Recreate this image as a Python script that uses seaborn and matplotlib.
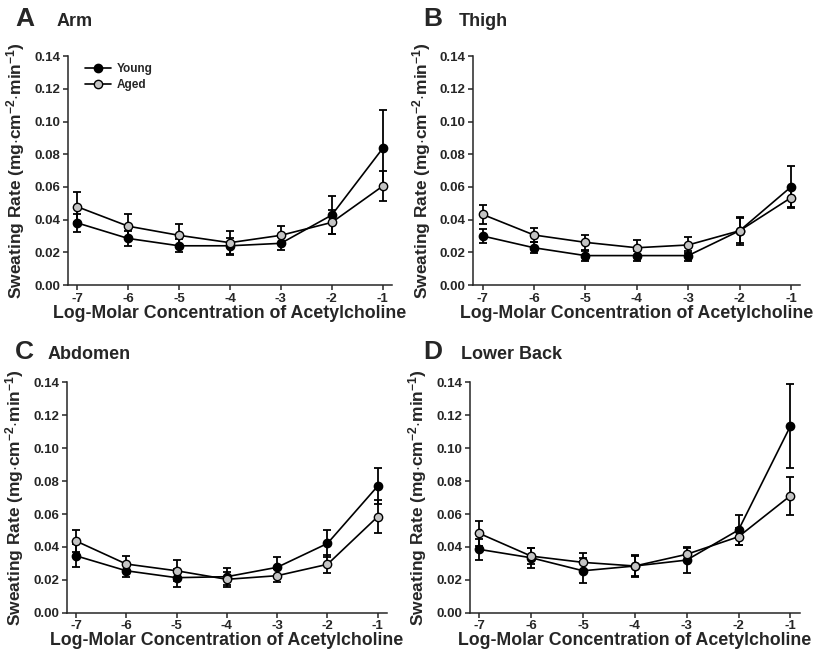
import matplotlib
matplotlib.use("Agg")
import matplotlib.pyplot as plt
from matplotlib.lines import Line2D
import seaborn as sns
import pandas as pd

# concentrations of acetylcholine (log molar)
conc = [-7, -6, -5, -4, -3, -2, -1]

# sweating rate, mean and SE
arm_young = [0.038, 0.0285, 0.024, 0.024, 0.0255, 0.0428, 0.0836]
arm_young_err = [0.0055, 0.0046, 0.004, 0.005, 0.004, 0.0116, 0.0234]
arm_aged = [0.0479, 0.036, 0.0304, 0.0259, 0.0304, 0.0383, 0.0605]
arm_aged_err = [0.0092, 0.0073, 0.007, 0.0073, 0.0055, 0.0073, 0.0092]

thigh_young = [0.030, 0.0228, 0.018, 0.018, 0.018, 0.0332, 0.060]
thigh_young_err = [0.004, 0.0035, 0.003, 0.003, 0.003, 0.0085, 0.0125]
thigh_aged = [0.0432, 0.0306, 0.0261, 0.0228, 0.0245, 0.0332, 0.0534]
thigh_aged_err = [0.006, 0.0043, 0.0045, 0.005, 0.0047, 0.0075, 0.0063]

abd_young = [0.0346, 0.0255, 0.0213, 0.0219, 0.0276, 0.0421, 0.077]
abd_young_err = [0.007, 0.004, 0.0055, 0.005, 0.006, 0.008, 0.0107]
abd_aged = [0.0436, 0.0296, 0.0255, 0.0203, 0.0225, 0.0294, 0.0584]
abd_aged_err = [0.0067, 0.005, 0.0065, 0.0045, 0.004, 0.0055, 0.010]

back_young = [0.0385, 0.0334, 0.0255, 0.0284, 0.032, 0.0503, 0.1134]
back_young_err = [0.0065, 0.006, 0.0077, 0.006, 0.0077, 0.009, 0.0256]
back_aged = [0.0482, 0.0344, 0.0306, 0.0284, 0.0355, 0.0462, 0.0711]
back_aged_err = [0.0075, 0.005, 0.0055, 0.0065, 0.004, 0.005, 0.0114]

AGED_GREY = "#c4c4c4"

sns.set_style("ticks")
plt.rcParams["font.family"] = ["Liberation Sans", "DejaVu Sans"]
plt.rcParams["font.weight"] = "bold"
plt.rcParams["axes.unicode_minus"] = False
plt.rcParams["mathtext.fontset"] = "custom"
plt.rcParams["mathtext.rm"] = "Liberation Sans:bold"
plt.rcParams["mathtext.default"] = "rm"

fig = plt.figure(figsize=(8.16, 6.56), dpi=100)

# letter, title, axes rect, letter x / title x / baseline (px), data
panels = [
    ("A", "Arm", [0.0833, 0.5655, 0.397, 0.349], 15, 57, 26, arm_young, arm_young_err, arm_aged, arm_aged_err),
    ("B", "Thigh", [0.580, 0.5655, 0.4007, 0.349], 423, 459, 26, thigh_young, thigh_young_err, thigh_aged, thigh_aged_err),
    ("C", "Abdomen", [0.082, 0.066, 0.392, 0.351], 15, 48, 359, abd_young, abd_young_err, abd_aged, abd_aged_err),
    ("D", "Lower Back", [0.576, 0.066, 0.404, 0.351], 423, 461, 359, back_young, back_young_err, back_aged, back_aged_err),
]

ylab = r"Sweating Rate (mg$\cdot$cm$^{-2}$$\cdot$min$^{-1}$)"

for letter, name, rect, lx, tx, ty, yg, yg_err, ag, ag_err in panels:
    ax = fig.add_axes(rect)
    # error bars under the markers
    for y, err in [(yg, yg_err), (ag, ag_err)]:
        ax.errorbar(conc, y, yerr=err, fmt="none", ecolor="black", elinewidth=1.3,
                    capsize=2.8, capthick=1.3, zorder=2)

    # young then aged, aged on top
    for y, face, z in [(yg, "black", 3), (ag, AGED_GREY, 4)]:
        n = len(ax.lines)
        sns.lineplot(x=conc, y=y, color="black", marker="o", linewidth=1.2,
                     markersize=6, ax=ax, legend=False)
        for line in ax.lines[n:]:
            line.set_markerfacecolor(face)
            line.set_markeredgecolor("black")
            line.set_markeredgewidth(1.0)
            line.set_zorder(z)

    ax.set_xlim(-7.18, -0.82)
    ax.set_ylim(0, 0.14)
    ax.set_xticks(conc)
    ax.set_yticks([0, 0.02, 0.04, 0.06, 0.08, 0.10, 0.12, 0.14])
    ax.set_yticklabels(["0.00", "0.02", "0.04", "0.06", "0.08", "0.10", "0.12", "0.14"])
    ax.tick_params(labelsize=9.5, width=1.1, length=3.5, direction="out", pad=2)
    for lab in ax.get_xticklabels() + ax.get_yticklabels():
        lab.set_fontweight("bold")
    sns.despine(ax=ax)
    for s in ["left", "bottom"]:
        ax.spines[s].set_linewidth(1.1)
    ax.set_xlabel("Log-Molar Concentration of Acetylcholine", fontsize=12.8, fontweight="bold", labelpad=0)
    ax.set_ylabel(ylab, fontsize=12.5, fontweight="bold", labelpad=5)

    fig.text(lx / 816, 1 - ty / 656, letter, fontsize=19, fontweight="bold", va="baseline")
    fig.text(tx / 816, 1 - ty / 656, name, fontsize=13, fontweight="bold", va="baseline")

    if letter == "A":
        handles = [Line2D([], [], color="black", marker="o", markersize=6, linewidth=1.2,
                          markerfacecolor="black", markeredgecolor="black"),
                   Line2D([], [], color="black", marker="o", markersize=6, linewidth=1.2,
                          markerfacecolor=AGED_GREY, markeredgecolor="black")]
        ax.legend(handles, ["Young", "Aged"], loc="upper left", bbox_to_anchor=(0.02, 1.015),
                  frameon=False, prop={"size": 8.5, "weight": "bold"},
                  handlelength=2.2, handletextpad=0.5, labelspacing=0.3)

fig.savefig("out.png", dpi=100)
